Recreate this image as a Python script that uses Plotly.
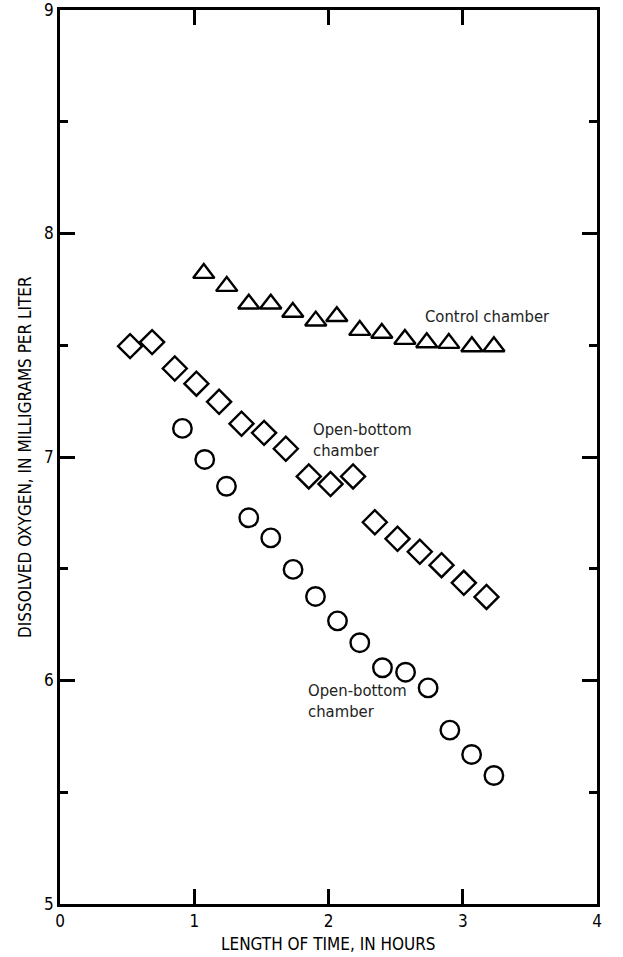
import plotly.graph_objects as go

# Control chamber (triangles)
ctrl_t = [1.071, 1.242, 1.406, 1.570, 1.734, 1.905, 2.062, 2.233, 2.397, 2.569, 2.732, 2.896, 3.068, 3.232]
ctrl_do = [7.822, 7.764, 7.685, 7.685, 7.648, 7.609, 7.629, 7.567, 7.554, 7.527, 7.512, 7.509, 7.494, 7.494]

# Open-bottom chamber, upper (diamonds)
ob1_t = [0.522, 0.686, 0.855, 1.016, 1.185, 1.352, 1.520, 1.682, 1.853, 2.015, 2.183, 2.345, 2.514, 2.680, 2.842, 3.008, 3.177]
ob1_do = [7.496, 7.514, 7.396, 7.328, 7.247, 7.149, 7.108, 7.037, 6.913, 6.879, 6.913, 6.708, 6.634, 6.576, 6.516, 6.437, 6.374]

# Open-bottom chamber, lower (circles)
ob2_t = [0.912, 1.078, 1.240, 1.406, 1.570, 1.736, 1.903, 2.067, 2.233, 2.402, 2.574, 2.742, 2.904, 3.066, 3.232]
ob2_do = [7.128, 6.989, 6.869, 6.728, 6.638, 6.497, 6.376, 6.267, 6.169, 6.057, 6.037, 5.967, 5.778, 5.669, 5.575]

x_ticks = [0, 1, 2, 3, 4]
y_ticks = [5, 6, 7, 8, 9]

FONT = "Liberation Sans Narrow, Arial Narrow, DejaVu Sans Condensed, sans-serif"

fig = go.Figure()
mk = dict(size=18.5, color="rgba(0,0,0,0)", line=dict(color="black", width=2.4))
fig.add_trace(go.Scatter(x=ctrl_t, y=ctrl_do, mode="markers",
                         marker=dict(symbol="triangle-up", **mk), name="Control chamber"))
fig.add_trace(go.Scatter(x=ob1_t, y=ob1_do, mode="markers",
                         marker=dict(symbol="diamond", **mk), name="Open-bottom chamber"))
fig.add_trace(go.Scatter(x=ob2_t, y=ob2_do, mode="markers",
                         marker=dict(symbol="circle", **mk), name="Open-bottom chamber"))

fig.update_layout(
    width=623, height=957,
    margin=dict(l=60, r=26, t=10, b=53),
    paper_bgcolor="white", plot_bgcolor="white",
    showlegend=False,
    font=dict(family=FONT, size=17, color="black"),
)
fig.update_xaxes(
    range=[0, 4], tickmode="array", tickvals=x_ticks, ticktext=[str(v) for v in x_ticks],
    ticks="inside", ticklen=15, tickwidth=2.5, tickcolor="black",
    showline=True, linewidth=2.5, linecolor="black", mirror="ticks",
    showgrid=False, zeroline=False, tickfont=dict(size=17),
    ticklabeloverflow="allow", automargin=False,
)
fig.update_yaxes(
    range=[5, 9], tickmode="array", tickvals=y_ticks, ticktext=[str(v) for v in y_ticks],
    ticks="inside", ticklen=15, tickwidth=2.5, tickcolor="black",
    minor=dict(dtick=0.5, ticks="inside", ticklen=8, tickwidth=2.5, tickcolor="black"),
    showline=True, linewidth=2.5, linecolor="black", mirror="ticks",
    showgrid=False, zeroline=False, tickfont=dict(size=17),
    ticklabeloverflow="allow", automargin=False,
)

ann_color = "#222222"
fig.add_annotation(text="Control chamber", x=2.703, y=7.629, xref="x", yref="y",
                   showarrow=False, xanchor="left", yanchor="middle",
                   font=dict(size=16.5, color=ann_color))
fig.add_annotation(text="Open-bottom<br>chamber", x=1.868, y=7.076, xref="x", yref="y",
                   showarrow=False, xanchor="left", yanchor="middle", align="left",
                   font=dict(size=16.5, color=ann_color))
fig.add_annotation(text="Open-bottom<br>chamber", x=1.836, y=5.908, xref="x", yref="y",
                   showarrow=False, xanchor="left", yanchor="middle", align="left",
                   font=dict(size=16.5, color=ann_color))
fig.add_annotation(text="DISSOLVED OXYGEN, IN MILLIGRAMS PER LITER", x=0, y=0.5,
                   xref="paper", yref="paper", xshift=-35, textangle=-90,
                   showarrow=False, xanchor="center", yanchor="middle",
                   font=dict(size=17))
fig.add_annotation(text="LENGTH OF TIME, IN HOURS", x=0.5, y=0,
                   xref="paper", yref="paper", yshift=-40,
                   showarrow=False, xanchor="center", yanchor="middle",
                   font=dict(size=17))

fig.write_html("out.html", config={"displayModeBar": False},
               post_script="document.body.style.margin='0px';document.body.style.overflow='hidden';")
